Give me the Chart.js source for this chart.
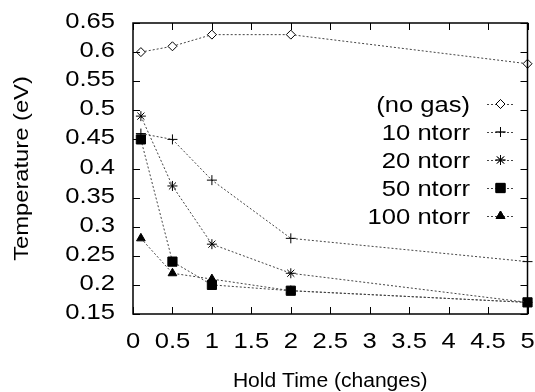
<!DOCTYPE html>
<html>
<head>
<meta charset="utf-8">
<script src="https://cdn.jsdelivr.net/npm/chart.js@4/dist/chart.umd.min.js"></script>
<style>
  html, body { margin: 0; padding: 0; background: #fff; }
  #wrap { width: 535px; height: 392px; }
</style>
</head>
<body>
<div id="wrap"><canvas id="chart" width="535" height="392"></canvas></div>
<script>
// hold times (changes)
const holdTimes = [0.1, 0.5, 1, 2, 5];

const seriesNames = ["(no gas)", "10 ntorr", "20 ntorr", "50 ntorr", "100 ntorr"];

const noGas = [0.60, 0.61, 0.63, 0.63, 0.58];
const ntorr10 = [0.46, 0.45, 0.38, 0.28, 0.24];
const ntorr20 = [0.49, 0.37, 0.27, 0.22, 0.17];
const ntorr50 = [0.45, 0.24, 0.20, 0.19, 0.17];
const ntorr100 = [0.28, 0.22, 0.21, 0.19, 0.17];

const xTicks = [0, 0.5, 1, 1.5, 2, 2.5, 3, 3.5, 4, 4.5, 5];
const yTicks = [0.15, 0.2, 0.25, 0.3, 0.35, 0.4, 0.45, 0.5, 0.55, 0.6, 0.65];

const xTitle = "Hold Time (changes)";
const yTitle = "Temperature (eV)";

const FONT = "'Liberation Sans', Arial, Helvetica, sans-serif";

function pts(vals) {
  return holdTimes.map((x, i) => ({ x: x, y: vals[i] }));
}

function series(label, vals, style, radius, fill) {
  return {
    label: label,
    data: pts(vals),
    borderColor: "#444",
    borderWidth: 1,
    borderDash: [2, 2],
    pointStyle: style,
    pointRadius: radius,
    pointHoverRadius: radius,
    pointBorderColor: "#000",
    pointBorderWidth: 1,
    pointBackgroundColor: fill,
    fill: false,
    tension: 0,
    clip: false,
  };
}

// the original lettering is wide, so text gets a horizontal scale
function wideText(ctx, text, x, y, align, size, stretch, angle) {
  ctx.save();
  ctx.translate(x, y);
  if (angle) ctx.rotate(angle);
  ctx.scale(stretch, 1);
  ctx.font = size + "px " + FONT;
  ctx.fillStyle = "#000";
  ctx.textAlign = align;
  ctx.textBaseline = "alphabetic";
  ctx.fillText(text, 0, 0);
  ctx.restore();
}

// inward ticks on all four sides, a frame, tick labels and axis titles
const frameTicks = {
  id: "frameTicks",
  afterDraw(chart) {
    const { ctx, chartArea: a, scales } = chart;
    const len = 7;
    ctx.save();
    ctx.strokeStyle = "#000";
    ctx.lineWidth = 1;
    ctx.beginPath();
    scales.x.ticks.forEach(t => {
      const px = Math.round(scales.x.getPixelForValue(t.value)) + 0.5;
      ctx.moveTo(px, a.bottom); ctx.lineTo(px, a.bottom - len);
      ctx.moveTo(px, a.top); ctx.lineTo(px, a.top + len);
    });
    scales.y.ticks.forEach(t => {
      const py = Math.round(scales.y.getPixelForValue(t.value)) + 0.5;
      ctx.moveTo(a.left, py); ctx.lineTo(a.left + len, py);
      ctx.moveTo(a.right, py); ctx.lineTo(a.right - len, py);
    });
    ctx.stroke();
    ctx.lineWidth = 1.5;
    ctx.strokeRect(a.left, a.top, a.right - a.left, a.bottom - a.top);
    ctx.restore();

    scales.x.ticks.forEach(t => {
      wideText(ctx, String(t.value), scales.x.getPixelForValue(t.value), a.bottom + 34, "center", 21.5, 1.19);
    });
    scales.y.ticks.forEach(t => {
      const lbl = String(parseFloat(t.value.toFixed(2)));
      wideText(ctx, lbl, a.left - 18, scales.y.getPixelForValue(t.value) + 5, "right", 21.5, 1.19);
    });
    wideText(ctx, xTitle, (a.left + a.right) / 2, a.bottom + 73, "center", 19.5, 1.08);
    wideText(ctx, yTitle, 28, (a.top + a.bottom) / 2, "center", 21, 1.13, -Math.PI / 2);
  }
};

// gnuplot-like legend: text right aligned, sample on its right
const sideLegend = {
  id: "sideLegend",
  afterDatasetsDraw(chart, args, opts) {
    const ctx = chart.ctx;
    chart.data.datasets.forEach((ds, i) => {
      const y = opts.top + i * opts.rowHeight;
      wideText(ctx, ds.label, opts.textRight, y + 7.5, "right", 21.5, 1.19);
      ctx.save();
      ctx.strokeStyle = ds.borderColor;
      ctx.lineWidth = 1;
      ctx.setLineDash([2, 2]);
      ctx.beginPath();
      ctx.moveTo(opts.lineLeft, y + 0.5);
      ctx.lineTo(opts.lineRight, y + 0.5);
      ctx.stroke();
      ctx.setLineDash([]);
      Chart.helpers.drawPoint(ctx, {
        pointStyle: ds.pointStyle,
        radius: ds.pointRadius,
        rotation: 0,
        borderWidth: 1,
      }, (opts.lineLeft + opts.lineRight) / 2, y);
      ctx.fillStyle = ds.pointBackgroundColor;
      ctx.strokeStyle = "#000";
      ctx.fill();
      ctx.stroke();
      ctx.restore();
    });
  }
};

new Chart(document.getElementById("chart"), {
  type: "line",
  data: {
    datasets: [
      series(seriesNames[0], noGas, "rectRot", 4.5, "#fff"),
      series(seriesNames[1], ntorr10, "cross", 5, "#000"),
      series(seriesNames[2], ntorr20, "star", 5, "#000"),
      series(seriesNames[3], ntorr50, "rect", 6.5, "#000"),
      series(seriesNames[4], ntorr100, "triangle", 5, "#000"),
    ]
  },
  plugins: [frameTicks, sideLegend],
  options: {
    responsive: false,
    animation: false,
    events: [],
    layout: { padding: { top: 23, right: 7, left: 0, bottom: 0 } },
    plugins: {
      legend: { display: false },
      tooltip: { enabled: false },
      sideLegend: { top: 104, rowHeight: 28, textRight: 470, lineLeft: 487, lineRight: 514 },
    },
    scales: {
      x: {
        type: "linear",
        min: 0,
        max: 5,
        afterBuildTicks: s => { s.ticks = xTicks.map(v => ({ value: v })); },
        ticks: { display: false },
        grid: { display: false, drawTicks: false },
        border: { display: false },
        afterFit: s => { s.height = 78; },
      },
      y: {
        type: "linear",
        min: 0.15,
        max: 0.65,
        afterBuildTicks: s => { s.ticks = yTicks.map(v => ({ value: v })); },
        ticks: { display: false },
        grid: { display: false, drawTicks: false },
        border: { display: false },
        afterFit: s => { s.width = 133; },
      }
    }
  }
});
</script>
</body>
</html>
